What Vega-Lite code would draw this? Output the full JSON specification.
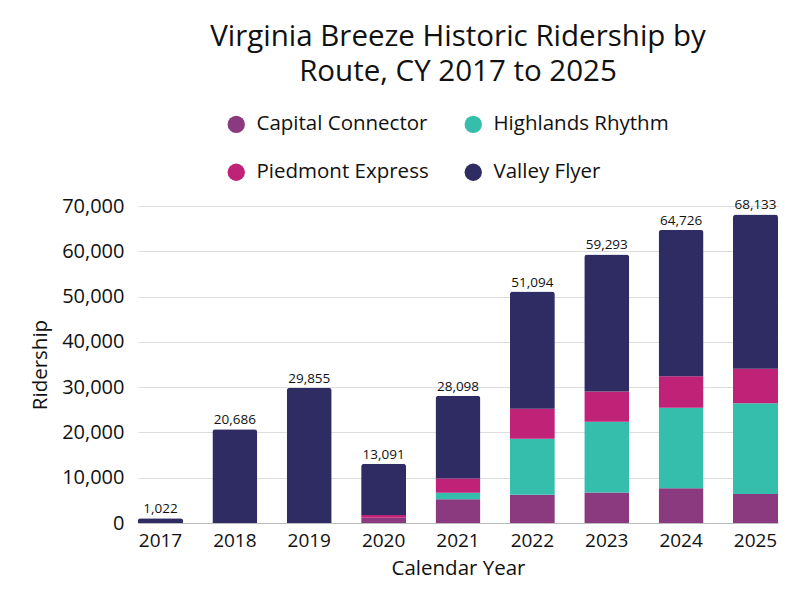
{
  "$schema": "https://vega.github.io/schema/vega-lite/v6.json",
  "width": 640,
  "height": 317,
  "autosize": "none",
  "padding": {"left": 138, "top": 206, "right": 22, "bottom": 77},
  "background": "white",
  "config": {
    "font": "Open Sans",
    "view": {"stroke": null}
  },
  "title": {
    "text": ["Virginia Breeze Historic Ridership by", "Route, CY 2017 to 2025"],
    "fontSize": 29.5,
    "fontWeight": "normal",
    "color": "#111111",
    "anchor": "middle",
    "lineHeight": 35,
    "offset": 27
  },
  "data": {
    "values": [
      {"year": "2017", "route": "Valley Flyer", "riders": 1022},
      {"year": "2018", "route": "Valley Flyer", "riders": 20686},
      {"year": "2019", "route": "Valley Flyer", "riders": 29855},
      {"year": "2020", "route": "Capital Connector", "riders": 1150},
      {"year": "2020", "route": "Piedmont Express", "riders": 600},
      {"year": "2020", "route": "Valley Flyer", "riders": 11341},
      {"year": "2021", "route": "Capital Connector", "riders": 5220},
      {"year": "2021", "route": "Highlands Rhythm", "riders": 1470},
      {"year": "2021", "route": "Piedmont Express", "riders": 3160},
      {"year": "2021", "route": "Valley Flyer", "riders": 18248},
      {"year": "2022", "route": "Capital Connector", "riders": 6250},
      {"year": "2022", "route": "Highlands Rhythm", "riders": 12350},
      {"year": "2022", "route": "Piedmont Express", "riders": 6620},
      {"year": "2022", "route": "Valley Flyer", "riders": 25874},
      {"year": "2023", "route": "Capital Connector", "riders": 6760},
      {"year": "2023", "route": "Highlands Rhythm", "riders": 15590},
      {"year": "2023", "route": "Piedmont Express", "riders": 6690},
      {"year": "2023", "route": "Valley Flyer", "riders": 30253},
      {"year": "2024", "route": "Capital Connector", "riders": 7650},
      {"year": "2024", "route": "Highlands Rhythm", "riders": 17790},
      {"year": "2024", "route": "Piedmont Express", "riders": 6990},
      {"year": "2024", "route": "Valley Flyer", "riders": 32296},
      {"year": "2025", "route": "Capital Connector", "riders": 6400},
      {"year": "2025", "route": "Highlands Rhythm", "riders": 20070},
      {"year": "2025", "route": "Piedmont Express", "riders": 7570},
      {"year": "2025", "route": "Valley Flyer", "riders": 34093}
    ]
  },
  "encoding": {
    "x": {
      "field": "year",
      "type": "ordinal",
      "title": "Calendar Year",
      "scale": {"paddingInner": 0.395, "paddingOuter": 0},
      "axis": {
        "labelAngle": 0,
        "labelFontSize": 19,
        "labelColor": "#111111",
        "labelPadding": 8,
        "ticks": false,
        "domainColor": "#bbbbbb",
        "titleFontSize": 20.5,
        "titleFontWeight": "normal",
        "titleColor": "#111111",
        "titlePadding": 8
      }
    }
  },
  "layer": [
    {
      "mark": {"type": "bar", "cornerRadiusTopLeft": 3, "cornerRadiusTopRight": 3},
      "encoding": {
        "y": {
          "field": "riders",
          "type": "quantitative",
          "stack": "zero",
          "title": "Ridership",
          "scale": {"domain": [0, 70000]},
          "axis": {
            "tickCount": 7,
            "labelExpr": "format(datum.value, ',')",
            "labelFontSize": 20,
            "labelColor": "#111111",
            "labelPadding": 14,
            "ticks": false,
            "domain": false,
            "gridColor": "#dddddd",
            "titleFontSize": 20.5,
            "titleFontWeight": "normal",
            "titleColor": "#111111",
            "titlePadding": 11
          }
        },
        "color": {
          "field": "route",
          "type": "nominal",
          "scale": {
            "domain": ["Capital Connector", "Highlands Rhythm", "Piedmont Express", "Valley Flyer"],
            "range": ["#8b3a7f", "#36bead", "#c02277", "#2e2c63"]
          },
          "legend": {
            "title": null,
            "orient": "none",
            "legendX": 88,
            "legendY": -92,
            "direction": "horizontal",
            "columns": 2,
            "symbolType": "circle",
            "symbolSize": 300,
            "symbolStrokeWidth": 0,
            "labelFontSize": 20.5,
            "labelLimit": 400,
            "labelColor": "#111111",
            "labelOffset": 10,
            "rowPadding": 27,
            "columnPadding": 34
          }
        },
        "order": {"field": "route", "sort": "ascending"}
      }
    },
    {
      "mark": {"type": "text", "dy": -9, "fontSize": 13.5, "color": "#111111"},
      "encoding": {
        "y": {"aggregate": "sum", "field": "riders", "type": "quantitative"},
        "text": {"aggregate": "sum", "field": "riders", "type": "quantitative", "format": ","}
      }
    }
  ]
}
